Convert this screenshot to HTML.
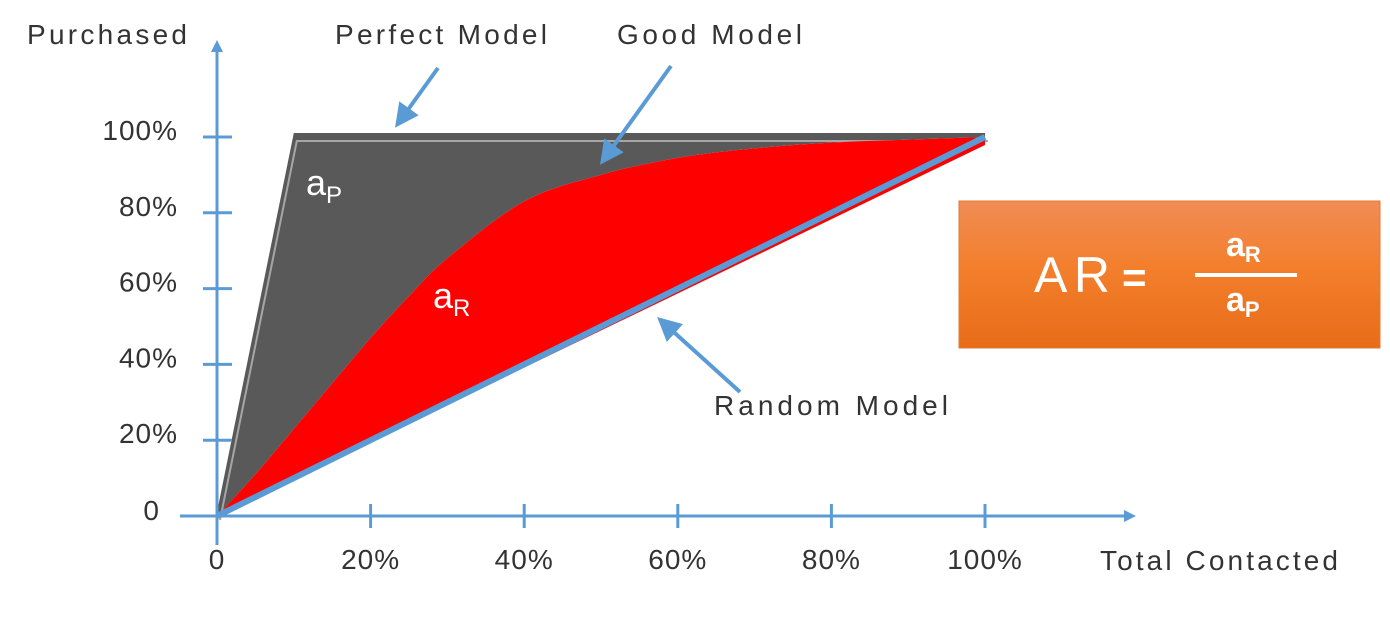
<!DOCTYPE html>
<html><head><meta charset="utf-8"><style>
html,body{margin:0;padding:0;background:#fff}
svg text{font-family:"Liberation Sans",sans-serif}
</style></head><body>
<svg width="1390" height="622" viewBox="0 0 1390 622" xmlns="http://www.w3.org/2000/svg" id="chart">
<defs>
<linearGradient id="og" x1="0" y1="0" x2="0" y2="1"><stop offset="0" stop-color="#f08c55"/><stop offset="0.45" stop-color="#f37f2c"/><stop offset="1" stop-color="#e86c18"/></linearGradient>
<marker id="ah" markerWidth="6" markerHeight="6" refX="3" refY="3" orient="auto" markerUnits="strokeWidth"><path d="M0,0 L6,3 L0,6 z" fill="#5b9bd5"/></marker>
</defs>
<g id="plot"></g>
<text x="27" y="44" font-size="28" fill="#333" textLength="160">Purchased</text>
<text x="1100" y="570" font-size="28" fill="#333" textLength="238">Total Contacted</text>
<text x="335" y="44" font-size="28" fill="#333" textLength="212">Perfect Model</text>
<text x="617" y="44" font-size="28" fill="#333" textLength="185">Good Model</text>
<text x="714" y="415" font-size="28" fill="#333" textLength="234">Random Model</text>
<line x1="438" y1="68" x2="402" y2="118" stroke="#5b9bd5" stroke-width="4" marker-end="url(#ah)"/>
<line x1="671" y1="66" x2="607" y2="155" stroke="#5b9bd5" stroke-width="4" marker-end="url(#ah)"/>
<line x1="740" y1="392" x2="666" y2="325" stroke="#5b9bd5" stroke-width="4" marker-end="url(#ah)"/>
<text x="306" y="195" font-size="36" fill="#fff">a<tspan font-size="24" dy="8">P</tspan></text>
<text x="433" y="308" font-size="36" fill="#fff">a<tspan font-size="24" dy="8">R</tspan></text>
<g>
<rect x="959" y="201" width="421" height="147" fill="url(#og)" stroke="#e07a3a"/>
<text x="1034" y="292" font-size="50" fill="#fff" textLength="76">AR</text>
<text x="1122" y="292" font-size="42" font-weight="bold" fill="#fff">=</text>
<line x1="1195" y1="275" x2="1297" y2="275" stroke="#fff" stroke-width="4"/>
<text x="1226" y="256" font-size="34" font-weight="bold" fill="#fff">a<tspan font-size="22" dy="6">R</tspan></text>
<text x="1226" y="311" font-size="34" font-weight="bold" fill="#fff">a<tspan font-size="22" dy="6">P</tspan></text>
</g>
</svg>
<script>
const goodX=[0,5,10,15,20,25,30,40,50,60,70,80,90,100];
const goodY=[0,11,23,35,47,58,68,83,90,94.5,97,98.5,99.3,100];
const perfectX=[0,10,100];
const perfectY=[0,100,100];
const xTicks=["0","20%","40%","60%","80%","100%"];
const yTicks=["0","20%","40%","60%","80%","100%"];
const tickVals=[0,20,40,60,80,100];
const X=v=>217+v*7.68, Y=v=>516-v*3.79;
const NS="http://www.w3.org/2000/svg";
const g=document.getElementById('plot');
function mk(t,a){const e=document.createElementNS(NS,t);for(const k in a)e.setAttribute(k,a[k]);g.appendChild(e);return e;}
const pts=goodX.map((x,i)=>[X(x),Y(goodY[i])]);
function smooth(p){let d='';for(let i=0;i<p.length-1;i++){const p0=p[i-1]||p[i],p1=p[i],p2=p[i+1],p3=p[i+2]||p2;
const c1=[p1[0]+(p2[0]-p0[0])/6,p1[1]+(p2[1]-p0[1])/6],c2=[p2[0]-(p3[0]-p1[0])/6,p2[1]-(p3[1]-p1[1])/6];
d+=' C'+c1+' '+c2+' '+p2;}return d;}
const curveFwd='M'+pts[0]+smooth(pts);
const revPts=pts.slice().reverse();
// gray area
let pp='M'+perfectX.map((x,i)=>X(x)+','+(Y(perfectY[i])-4)).join(' L')+' L'+revPts[0]+smooth(revPts)+' Z';
let ga=mk('path',{d:pp,fill:'#595959'});


let pl=mk('polyline',{points:perfectX.map((x,i)=>(X(x)+3)+','+(Y(perfectY[i])+4)).join(' '),fill:'none',stroke:'#a6a6a6','stroke-width':2});


let ra=mk('path',{d:curveFwd+' L'+X(100)+','+(Y(100)+8)+' L'+X(0)+','+Y(0)+' Z',fill:'#ff0000'});


let rl=mk('line',{x1:X(0),y1:Y(0),x2:X(100),y2:Y(100),stroke:'#5b9bd5','stroke-width':6});


let xa=mk('line',{x1:180,y1:516,x2:1128,y2:516,stroke:'#5b9bd5','stroke-width':3});


let xh=mk('path',{d:'M1124,510 L1136,516 L1124,522 z',fill:'#5b9bd5'});


let ya=mk('line',{x1:217,y1:545,x2:217,y2:48,stroke:'#5b9bd5','stroke-width':3});


let yh=mk('path',{d:'M211,52 L217,40 L223,52 z',fill:'#5b9bd5'});


tickVals.forEach((v,i)=>{
  if(v>0){
    let t=mk('line',{x1:X(v),y1:504,x2:X(v),y2:528,stroke:'#5b9bd5','stroke-width':3});
    
    
    let u=mk('line',{x1:203,y1:Y(v),x2:232,y2:Y(v),stroke:'#5b9bd5','stroke-width':3});
    
    
  }
  let xl=mk('text',{x:X(v),y:569,'font-size':28,fill:'#333','text-anchor':'middle','letter-spacing':1});
  xl.textContent=xTicks[i];
  
  
  let yl=mk('text',{x:v===0?160:178,y:Y(v)+(v===0?4:3),'font-size':28,fill:'#333','text-anchor':'end','letter-spacing':1});
  yl.textContent=yTicks[i];
  
  
});
</script>
</body></html>
